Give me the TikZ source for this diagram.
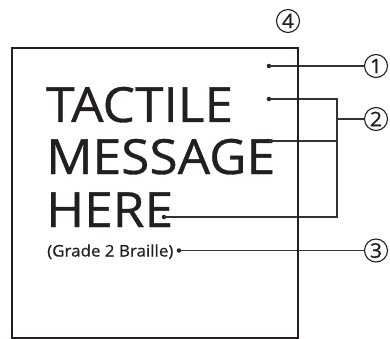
\documentclass[tikz,border=0pt]{standalone}
\usepackage{fontspec}
\setmainfont{Open Sans}[FakeStretch=1.06, FakeBold=0.7]
\definecolor{ink}{HTML}{231F20}
\definecolor{lead}{HTML}{333333}
\tikzset{
  bigtext/.style={anchor=base west, inner sep=0pt, text=ink, font=\fontsize{48.5}{48.5}\selectfont},
  smalltext/.style={anchor=base west, inner sep=0pt, text=ink, font=\fontsize{16}{16}\selectfont},
  dotmark/.style={circle, fill=ink, inner sep=0pt, minimum size=4.5pt},
  callout/.style={circle, draw=ink, line width=1.1pt, inner sep=0pt, minimum size=23pt, text=ink, font=\fontsize{20}{20}\selectfont},
  leader/.style={draw=lead, line width=1.2pt},
  frame/.style={draw=ink, line width=2pt}
}
\begin{document}
\begin{tikzpicture}[x=1pt,y=-1pt]
\useasboundingbox (0,0) rectangle (390,339);
% frame placeholder
\node[minimum width=286pt, minimum height=289pt, inner sep=0pt] (box) at (155,193) {};
% texts
\node[bigtext] (t1) at (46,122) {TACTILE};
\node[bigtext] (t2) at (46,174) {MESSAGE};
\node[bigtext] (t3) at (46,227) {HERE};
\node[smalltext] (t4) at (47,256.5) {(Grade 2 Braille)};
% dots
\node[dotmark] (d1) at (269,66) {};
\node[dotmark] (d2) at (269,99) {};
\node[dotmark] (d3) at (268,141) {};
\node[dotmark] (d4) at (164,217) {};
\node[dotmark] (d5) at (179,250.5) {};
% callouts
\node[callout] (c1) at (376,66) {1};
\node[callout] (c2) at (376,119) {2};
\node[callout] (c3) at (376,250.5) {3};
\node[callout] (c4) at (288,21) {4};
\coordinate (j) at (337,119);
% leaders
\draw[leader] (d5.center) -- (c3.west);
\draw[leader] (d1.center) -- (c1.west);
\draw[leader] (d2.center) -| (j) -- (c2.west);
\draw[leader] (d4.center) -| (j);
\draw[leader] (d3.center) -- (d3.center -| j);
% frame edge on top
\draw[frame] (box.north west) rectangle (box.south east);
\end{tikzpicture}
\end{document}
